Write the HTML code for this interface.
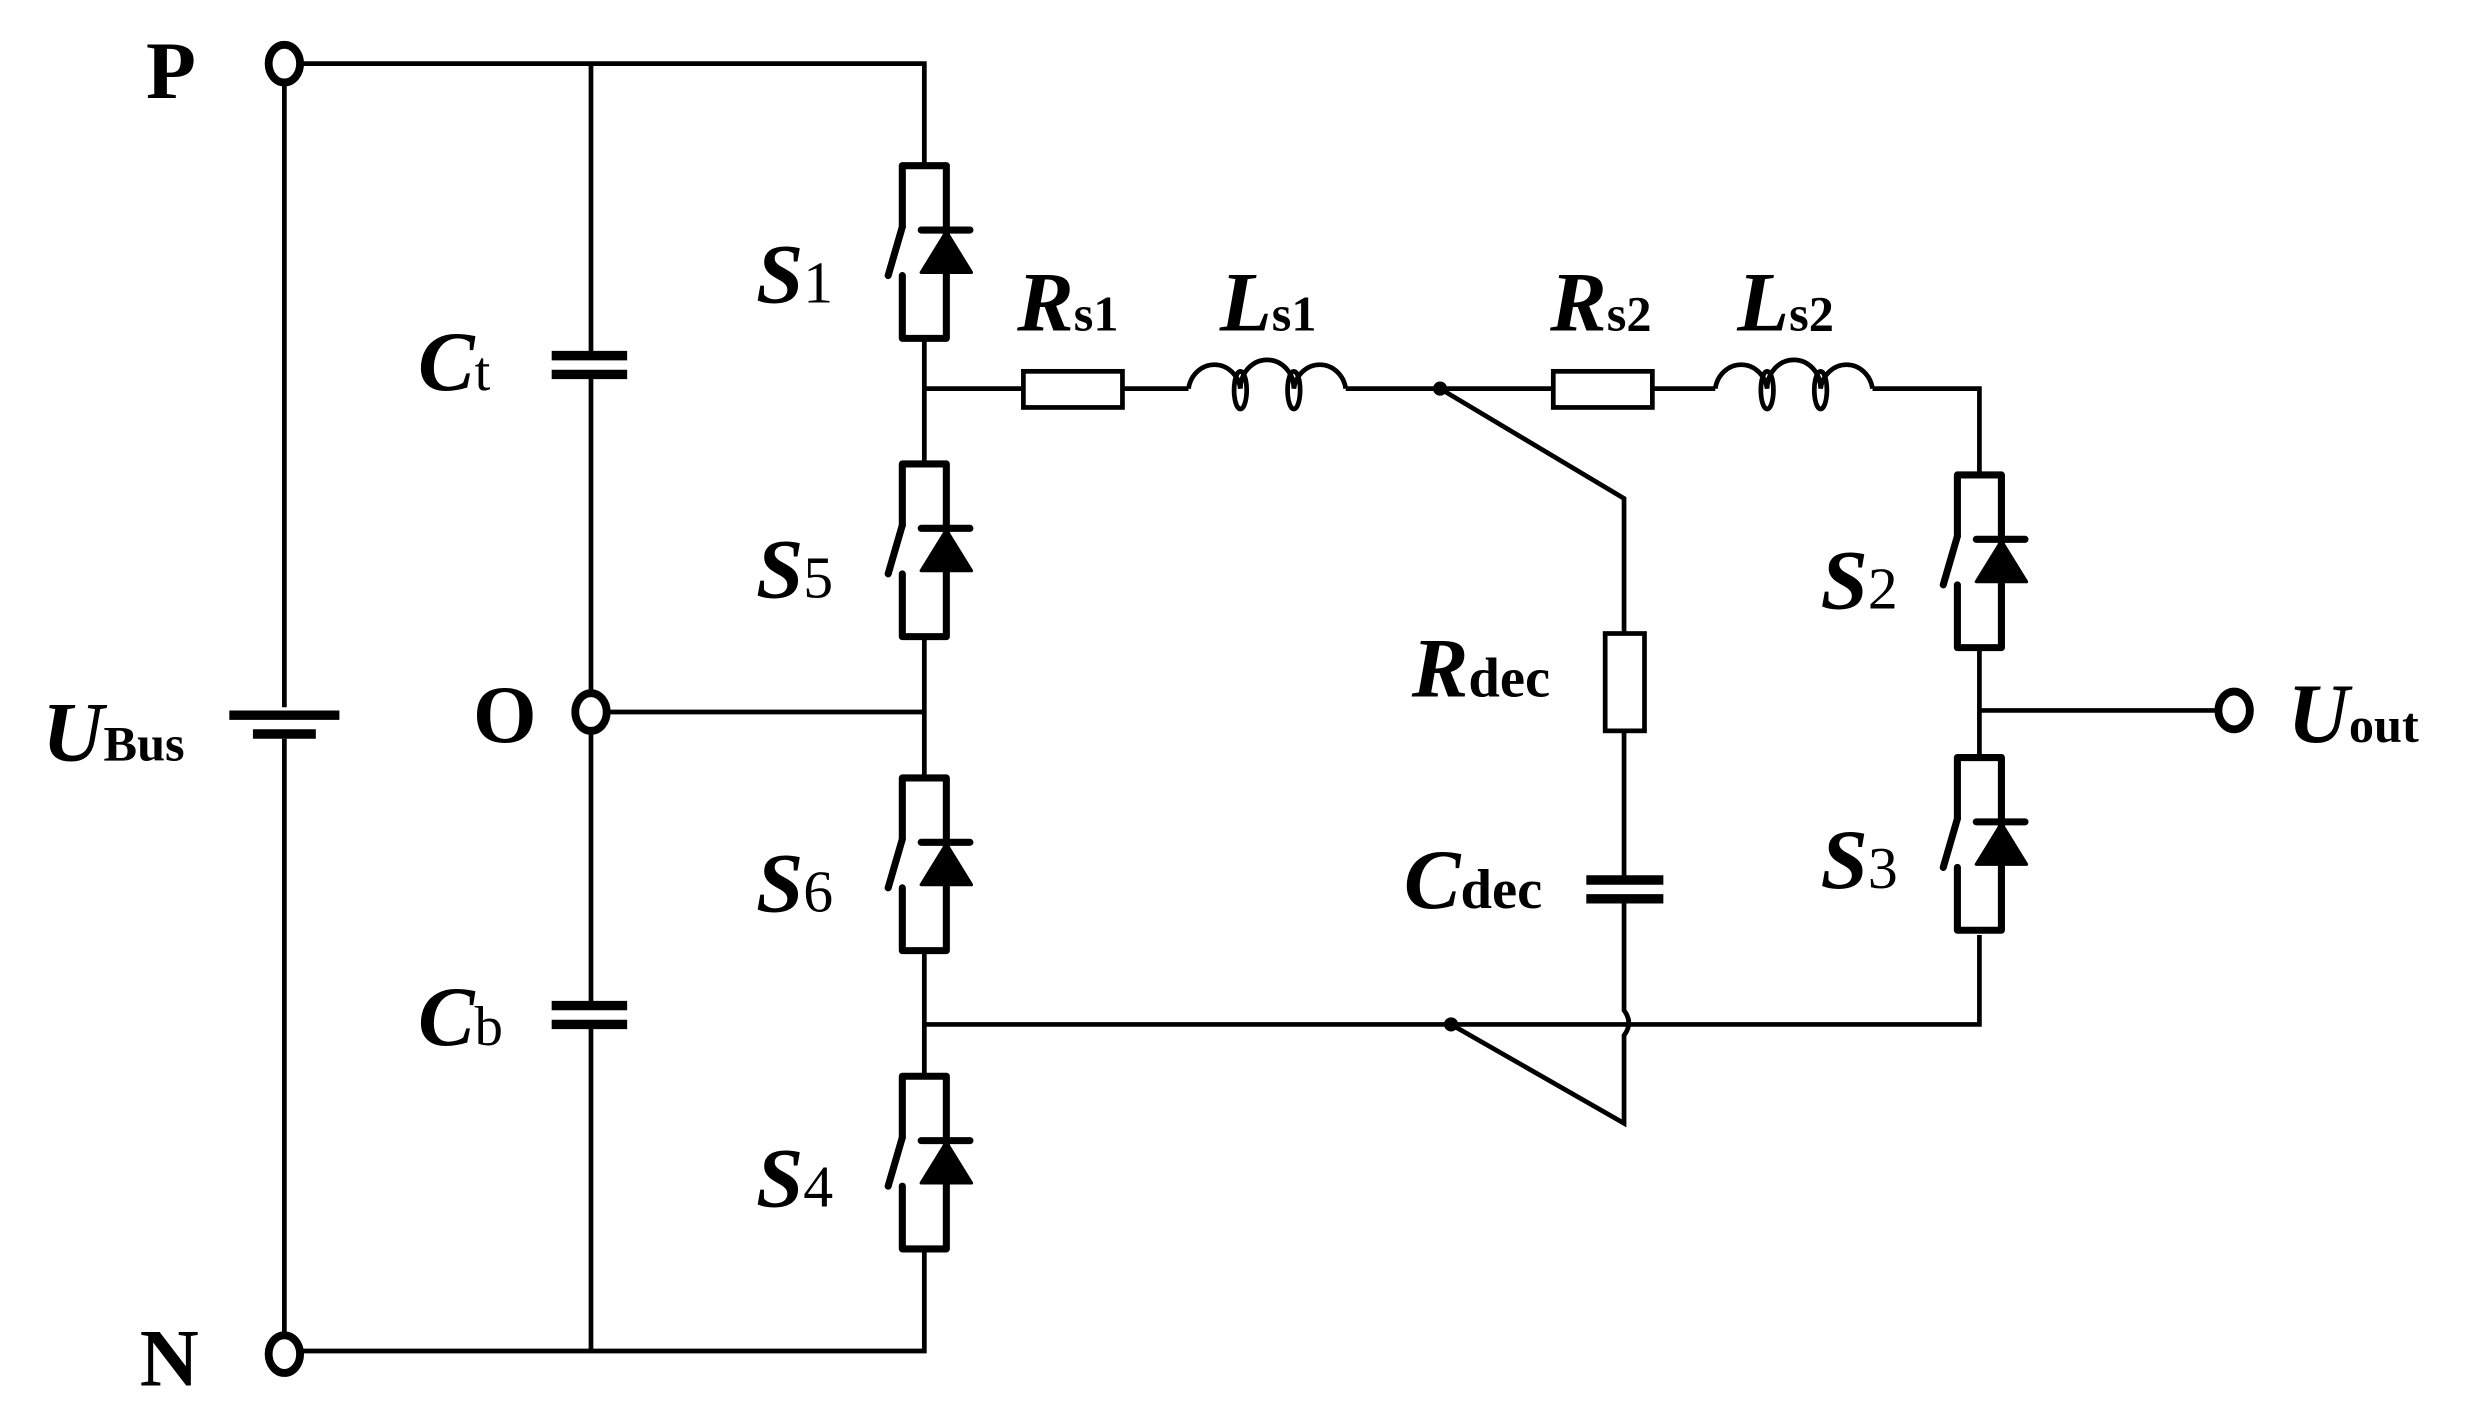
<!DOCTYPE html>
<html><head><meta charset="utf-8"><style>
html,body{margin:0;padding:0;background:#fff;}
svg{display:block;}
text{font-family:"Liberation Serif",serif;fill:#000;}
.b{font-weight:bold;}
.bi{font-weight:bold;font-style:italic;}
</style></head><body>
<svg width="2466" height="1415" viewBox="0 0 1552 890.5" preserveAspectRatio="none" xmlns="http://www.w3.org/2000/svg">
<defs>
<g id="sw" fill="none" stroke="#000">
  <path d="M-14,39 V0 H14 V110 H-14 V70" stroke-width="4.5" stroke-linejoin="round" stroke-linecap="round"/>
  <path d="M-14,39 L-23,70" stroke-width="4.5" stroke-linecap="round"/>
  <path d="M-2,41 H29" stroke-width="4.5" stroke-linecap="round"/>
  <polygon points="14,42 -2,68 30,68" fill="#000" stroke="#000" stroke-width="2" stroke-linejoin="round"/>
</g>
</defs>
<g transform="translate(4.8,2.5) scale(0.9896,0.988)">
<g transform="translate(-4,-2)" stroke="#000" fill="none" stroke-width="3">
  <line x1="180" y1="50" x2="180" y2="450"/>
  <line x1="180" y1="470" x2="180" y2="850"/>
  <line x1="145" y1="455" x2="215" y2="455" stroke-width="6"/>
  <line x1="160" y1="467" x2="200" y2="467" stroke-width="6"/>
  <polyline points="190,40 587,40 587,105"/>
  <polyline points="190,860 587,860 587,795"/>
  <line x1="375" y1="40" x2="375" y2="226"/>
  <line x1="375" y1="238" x2="375" y2="443"/>
  <line x1="350" y1="226" x2="398" y2="226" stroke-width="6"/>
  <line x1="350" y1="238" x2="398" y2="238" stroke-width="6"/>
  <line x1="375" y1="463" x2="375" y2="640"/>
  <line x1="375" y1="652" x2="375" y2="860"/>
  <line x1="350" y1="640" x2="398" y2="640" stroke-width="6"/>
  <line x1="350" y1="652" x2="398" y2="652" stroke-width="6"/>
  <line x1="385" y1="453" x2="587" y2="453"/>
  <line x1="587" y1="217" x2="587" y2="295"/>
  <line x1="587" y1="407" x2="587" y2="495"/>
  <line x1="587" y1="607" x2="587" y2="683"/>
  <line x1="587" y1="247" x2="650" y2="247"/>
  <rect x="650" y="236" width="63" height="23"/>
  <line x1="713" y1="247" x2="755" y2="247"/>
  <path d="M755,247 A16.7,18 0 0 1 788,247 A16.7,18 0 0 1 822,247 A16.7,18 0 0 1 855,247"/>
  <ellipse cx="788" cy="248" rx="4" ry="12"/>
  <ellipse cx="822" cy="248" rx="4" ry="12"/>
  <line x1="855" y1="247" x2="987" y2="247"/>
  <rect x="987" y="236" width="63" height="23"/>
  <line x1="1050" y1="247" x2="1090" y2="247"/>
  <path d="M1090,247 A16.7,18 0 0 1 1123,247 A16.7,18 0 0 1 1157,247 A16.7,18 0 0 1 1190,247"/>
  <ellipse cx="1123" cy="248" rx="4" ry="12"/>
  <ellipse cx="1157" cy="248" rx="4" ry="12"/>
  <polyline points="1190,247 1258,247 1258,300"/>
  <circle cx="915" cy="247" r="3" fill="#000"/>
  <polyline points="915,247 1032,317 1032,403"/>
  <rect x="1020" y="403" width="25" height="62"/>
  <line x1="1032" y1="465" x2="1032" y2="560"/>
  <line x1="1008" y1="560" x2="1057" y2="560" stroke-width="6"/>
  <line x1="1008" y1="572" x2="1057" y2="572" stroke-width="6"/>
  <path d="M1032,572 V643 Q1038,651 1032,659 V715 L922,652"/>
  <circle cx="922" cy="652" r="3" fill="#000"/>
  <polyline points="587,652 1258,652 1258,595"/>
  <line x1="1258" y1="412" x2="1258" y2="482"/>
  <line x1="1258" y1="452" x2="1410" y2="452"/>
  <g stroke-width="5" fill="#fff">
    <ellipse cx="180" cy="40" rx="10" ry="12"/>
    <ellipse cx="180" cy="862" rx="10" ry="12"/>
    <ellipse cx="375" cy="453" rx="10" ry="12"/>
    <ellipse cx="1420" cy="452" rx="10" ry="12"/>
  </g>
  <use href="#sw" x="587" y="105"/>
  <use href="#sw" x="587" y="295"/>
  <use href="#sw" x="587" y="495"/>
  <use href="#sw" x="587" y="685"/>
  <use href="#sw" x="1258" y="302"/>
  <use href="#sw" x="1258" y="482"/>
</g>
<g transform="translate(-4,-2)" stroke="none">
  <text x="92" y="62" class="b" font-size="52">P</text>
  <text x="88" y="882" class="b" font-size="52">N</text>
  <text x="300" y="472" class="b" font-size="52">O</text>
  <text x="26" y="484" class="bi" font-size="54">U<tspan class="b" font-style="normal" font-size="32">Bus</tspan></text>
  <text x="265" y="248" class="bi" font-size="54">C<tspan font-weight="normal" font-style="normal" font-size="36">t</tspan></text>
  <text x="265" y="665" class="bi" font-size="54">C<tspan font-weight="normal" font-style="normal" font-size="36">b</tspan></text>
  <text x="480" y="192" class="bi" font-size="54">S<tspan font-weight="normal" font-style="normal" font-size="38">1</tspan></text>
  <text x="480" y="380" class="bi" font-size="54">S<tspan font-weight="normal" font-style="normal" font-size="38">5</tspan></text>
  <text x="480" y="580" class="bi" font-size="54">S<tspan font-weight="normal" font-style="normal" font-size="38">6</tspan></text>
  <text x="480" y="768" class="bi" font-size="54">S<tspan font-weight="normal" font-style="normal" font-size="38">4</tspan></text>
  <text x="1157" y="387" class="bi" font-size="54">S<tspan font-weight="normal" font-style="normal" font-size="38">2</tspan></text>
  <text x="1157" y="565" class="bi" font-size="54">S<tspan font-weight="normal" font-style="normal" font-size="38">3</tspan></text>
  <text x="646" y="210" class="bi" font-size="54">R<tspan class="b" font-style="normal" font-size="32">s1</tspan></text>
  <text x="775" y="210" class="bi" font-size="54">L<tspan class="b" font-style="normal" font-size="32">s1</tspan></text>
  <text x="985" y="210" class="bi" font-size="54">R<tspan class="b" font-style="normal" font-size="32">s2</tspan></text>
  <text x="1104" y="210" class="bi" font-size="54">L<tspan class="b" font-style="normal" font-size="32">s2</tspan></text>
  <text x="897" y="443" class="bi" font-size="54">R<tspan class="b" font-style="normal" font-size="36">dec</tspan></text>
  <text x="892" y="578" class="bi" font-size="54">C<tspan class="b" font-style="normal" font-size="36">dec</tspan></text>
  <text x="1454" y="472" class="bi" font-size="54">U<tspan class="b" font-style="normal" font-size="32">out</tspan></text>
</g>
</g>
</svg>
</body></html>
